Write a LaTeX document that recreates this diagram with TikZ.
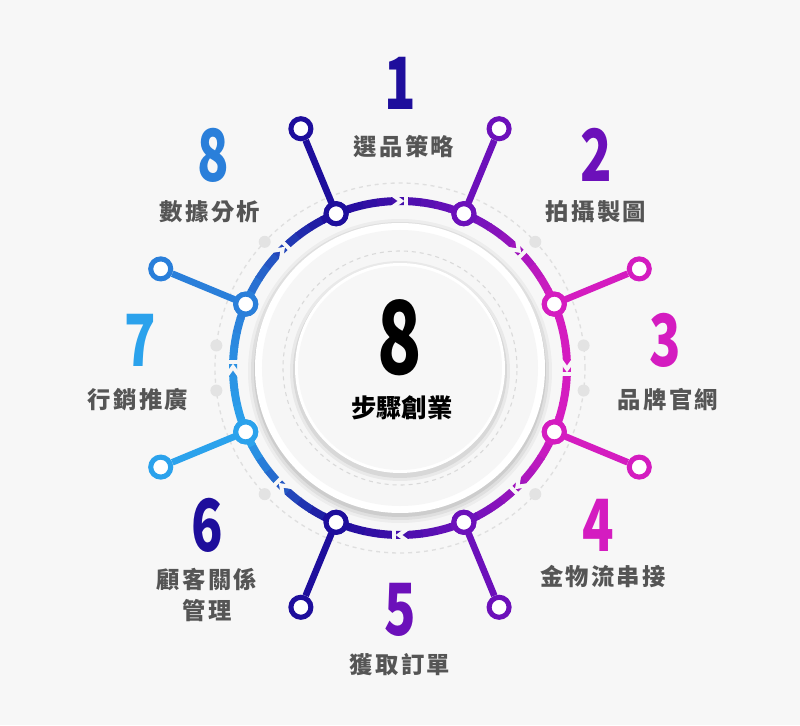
\documentclass[tikz,border=0pt]{standalone}
\usepackage{fontspec}
\newfontfamily\cjk{Noto Sans CJK TC}
\newfontfamily\cjksp{Noto Sans CJK TC}[LetterSpace=10]
\usetikzlibrary{calc}
\definecolor{bg}{HTML}{F7F7F7}
\definecolor{cA}{HTML}{1E0E9C}
\definecolor{cB}{HTML}{6C10BA}
\definecolor{cC}{HTML}{D41CC0}
\definecolor{cH}{HTML}{2BA2EC}
\definecolor{cG}{HTML}{2A7FDA}
\definecolor{lbl}{HTML}{555555}
\tikzset{
  numtxt/.style={font=\cjk\bfseries\fontsize{54}{54}\selectfont, xscale=0.72},
  labtxt/.style={font=\cjksp\bfseries\fontsize{17.5}{23}\selectfont, text=lbl, align=center},
  ringnode/.style={circle, fill=white, draw=#1, line width=3.8pt, minimum size=15pt, inner sep=0pt},
  stem/.style={draw=#1, line width=5pt},
}
\begin{document}
\begin{tikzpicture}[x=0.75pt,y=0.75pt]
\useasboundingbox[fill=bg] (-400,-357) rectangle (400,368);
\draw[gray!25, dashed, line width=1pt] (0,0) circle[radius=185];
\foreach \a in {7,43,137,173,-7,-43,-137,-173}
  \fill[gray!22] (\a:185) circle[radius=6];
\foreach \r/\o in {152/0.04,149/0.06,146/0.08}
  \fill[black, opacity=\o] (0,-3) circle[radius=\r];
\fill[white] (0,0) circle[radius=145];
\fill[gray!7] (0,0) circle[radius=138];
\draw[gray!30, dashed, line width=0.8pt] (0,0) circle[radius=117];
\foreach \r/\o in {110/0.05,107/0.07}
  \fill[black, opacity=\o] (0,-3) circle[radius=\r];
\fill[white] (0,0) circle[radius=105];
\fill[bg] (0,0) circle[radius=102];
\node[font=\cjk\bfseries\fontsize{76}{76}\selectfont, xscale=0.72] (ctrnum) at (0,30) {8};
\node[font=\cjk\bfseries\fontsize{19}{22}\selectfont] (ctrtxt) at (2,-40) {步驟創業};
\foreach \a/\c [count=\i] in {112.5/cA,67.5/cB,22.5/cC,-22.5/cC,-67.5/cB,-112.5/cA,-157.5/cH,157.5/cG}{
  \node[ringnode=\c] (rn\i) at (\a:167) {};
  \node[ringnode=\c] (on\i) at (\a:259) {};
  \draw[stem=\c] (on\i) -- ($(rn\i)!8pt!(on\i)$);
}
\foreach \a/\ca/\cb in {112.5/cA/cB,67.5/cB/cC,22.5/cC/cC,-22.5/cC/cB,-67.5/cB/cA,-112.5/cA/cH,-157.5/cH/cG,-202.5/cG/cA}{
  \foreach \k in {0,...,8}{
    \pgfmathsetmacro\sa{\a-\k*5+0.3}
    \pgfmathsetmacro\ea{\a-(\k+1)*5}
    \pgfmathsetmacro\pc{100-\k*12.5}
    \draw[\ca!\pc!\cb, line width=6pt] (\sa:167) arc[start angle=\sa, end angle=\ea, radius=167];
  }
  \pgfmathsetmacro\m{\a-22.5}
  \begin{scope}[rotate=\m]
    \draw[bg, line width=3pt] (159,10) -- (167,-1) -- (175,10);
    \draw[bg, line width=3pt] (159,-6) -- (175,-6);
  \end{scope}
}
\foreach \a/\c [count=\i] in {112.5/cA,67.5/cB,22.5/cC,-22.5/cC,-67.5/cB,-112.5/cA,-157.5/cH,157.5/cG}
  \node[ringnode=\c] (rm\i) at (\a:167) {};
\node[numtxt, text=cA] (n1) at (0,285) {1};
\node[labtxt] (l1) at (4,221) {選品策略};
\node[numtxt, text=cB] (n2) at (196,213) {2};
\node[labtxt] (l2) at (196,156) {拍攝製圖};
\node[numtxt, text=cC] (n3) at (265,28) {3};
\node[labtxt] (l3) at (268,-32) {品牌官網};
\node[numtxt, text=cC] (n4) at (198,-157) {4};
\node[labtxt] (l4) at (203,-209) {金物流串接};
\node[numtxt, text=cB] (n5) at (0,-242) {5};
\node[labtxt] (l5) at (0,-297) {獲取訂單};
\node[numtxt, text=cA] (n6) at (-193,-157) {6};
\node[labtxt] (l6) at (-193,-227) {顧客關係\\管理};
\node[numtxt, text=cH] (n7) at (-260,28) {7};
\node[labtxt] (l7) at (-262,-32) {行銷推廣};
\node[numtxt, text=cG] (n8) at (-187,213) {8};
\node[labtxt] (l8) at (-190,156) {數據分析};
\end{tikzpicture}
\end{document}
